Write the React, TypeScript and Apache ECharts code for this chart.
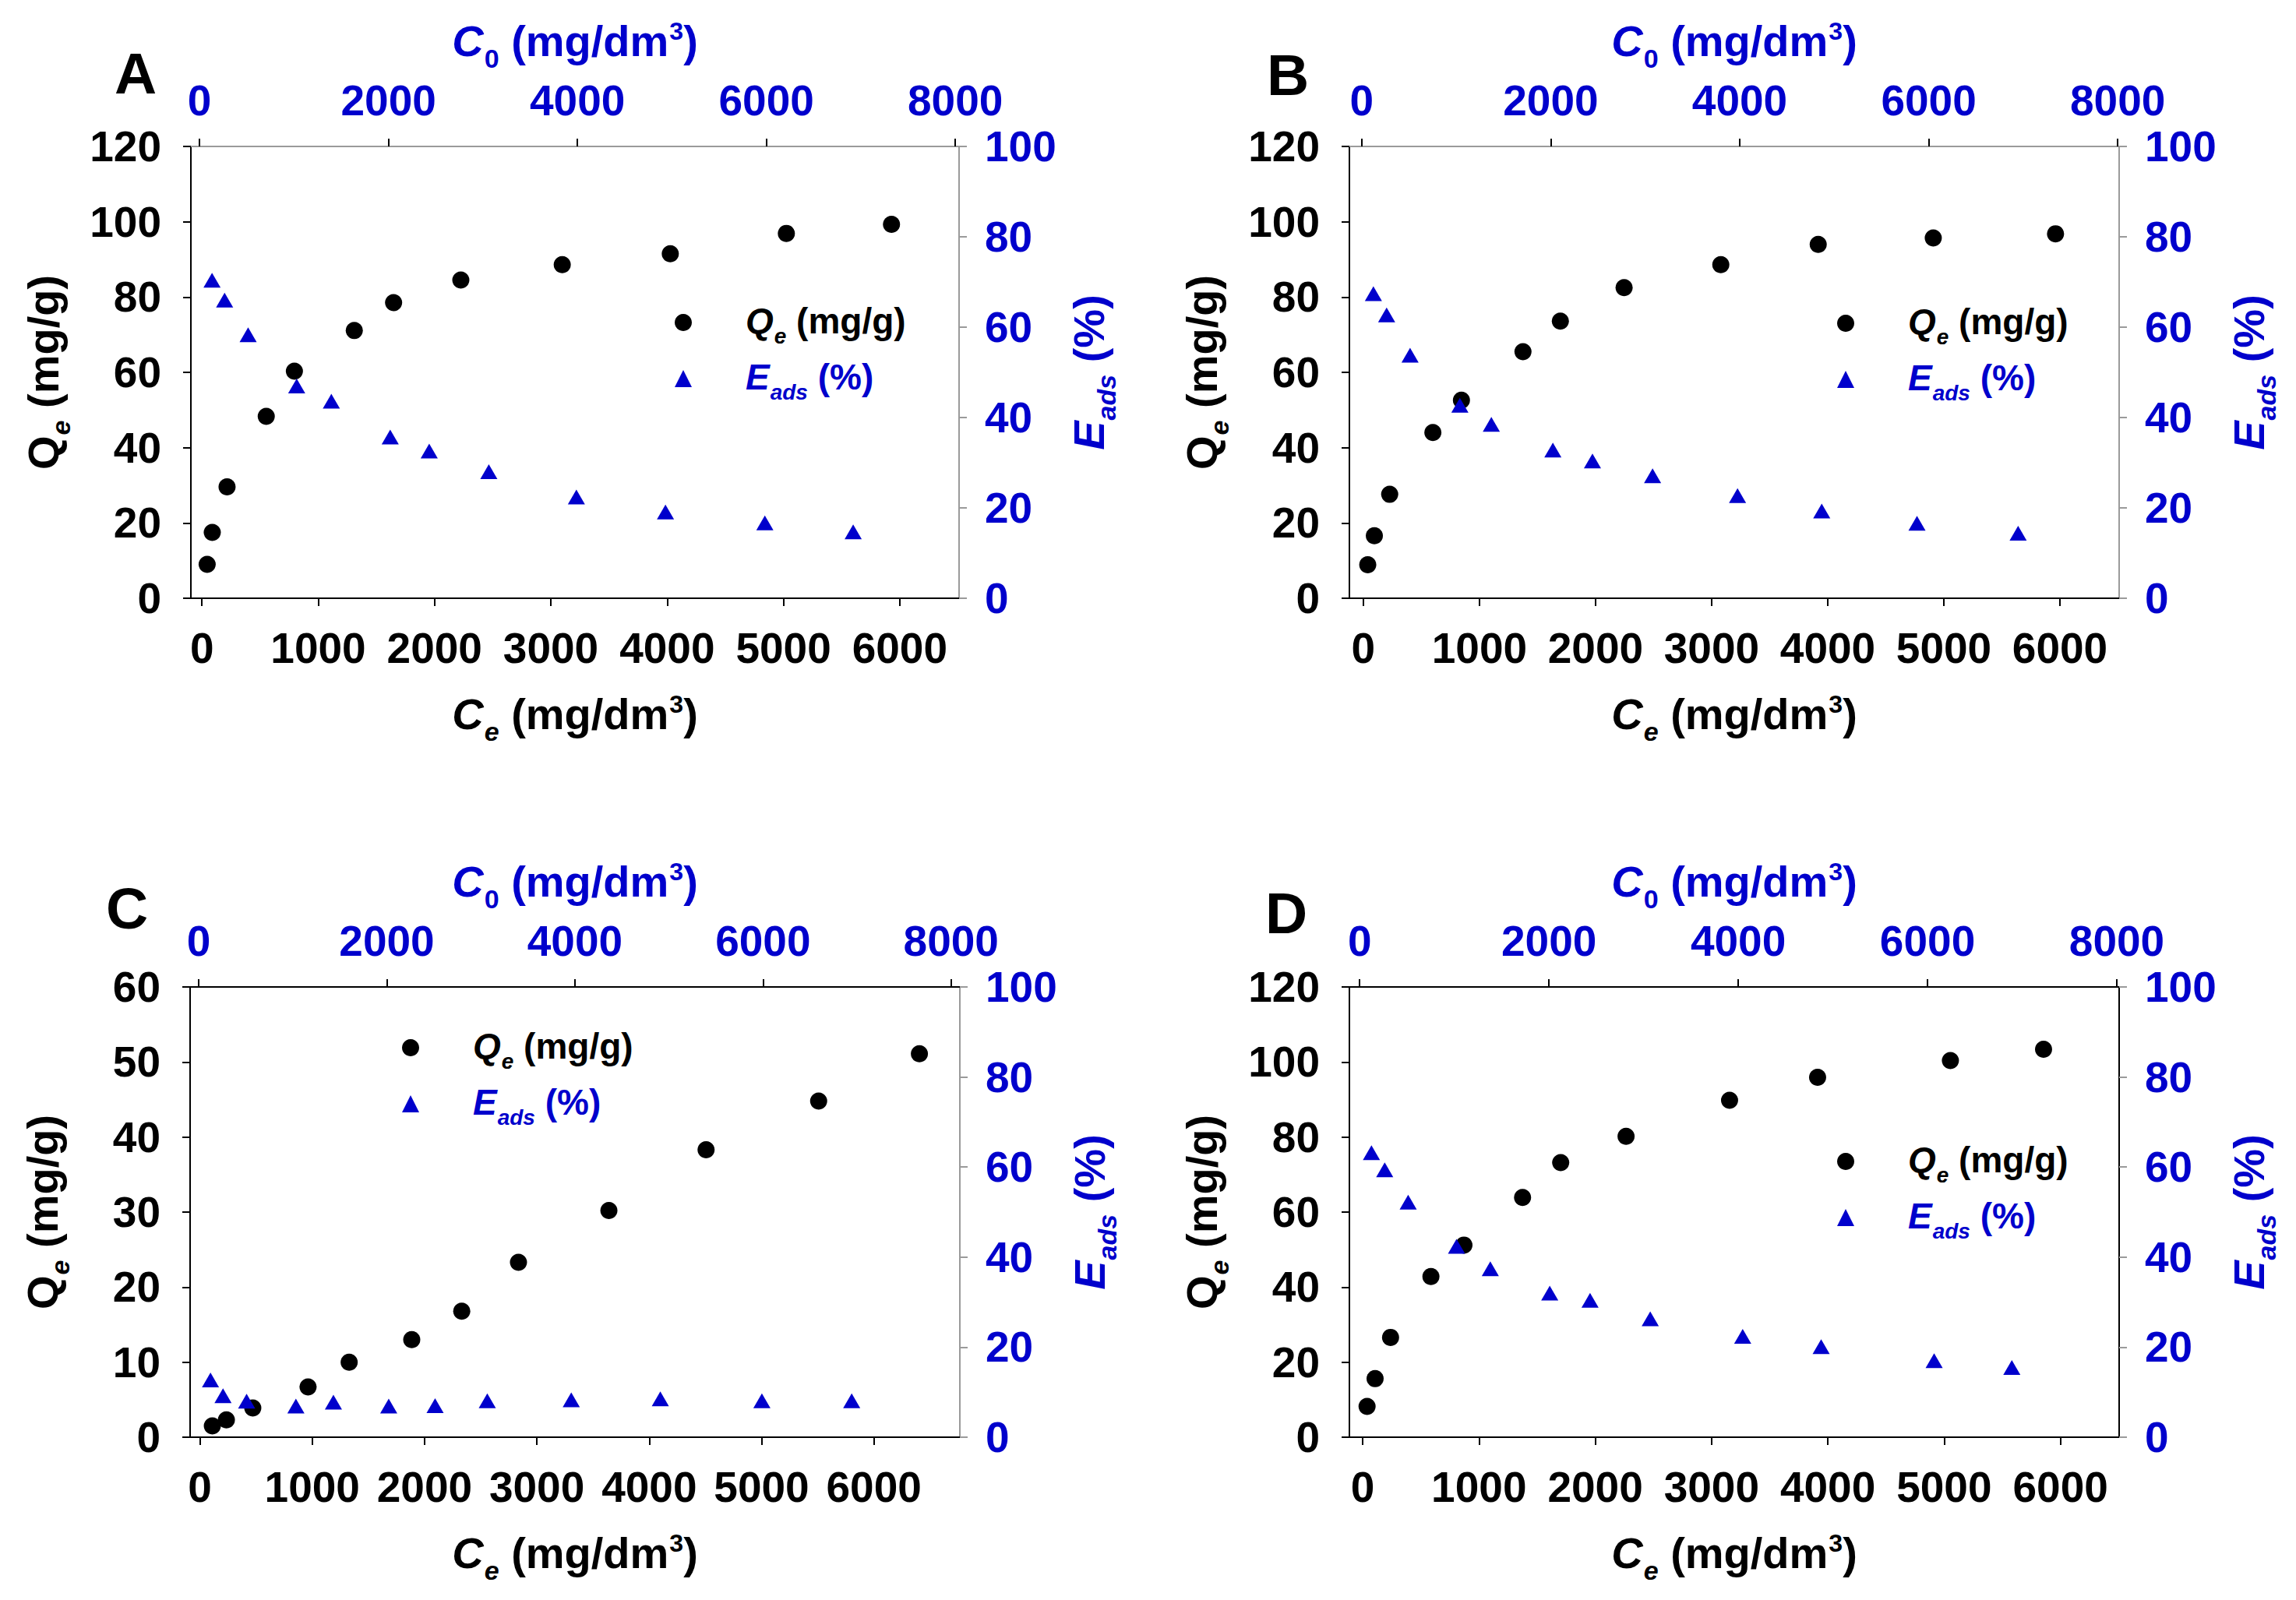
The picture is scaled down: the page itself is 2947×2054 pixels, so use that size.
import React, { useEffect, useRef } from "react";
import * as echarts from "echarts";

// ---------- data ----------
const ceTicks = [0, 1000, 2000, 3000, 4000, 5000, 6000];
const c0Ticks = [0, 2000, 4000, 6000, 8000];

const ceA = [45, 89, 216, 553, 795, 1310, 1648, 2226, 3098, 4027, 5025, 5929];
const qeA = [9.0, 17.5, 29.6, 48.3, 60.3, 71.1, 78.5, 84.5, 88.6, 91.5, 96.9, 99.3];
const c0A = [132, 265, 514, 1028, 1395, 2018, 2431, 3062, 3989, 4932, 5984, 6919];
const eA = [70.4, 66.0, 58.3, 47.0, 43.6, 35.7, 32.6, 28.0, 22.4, 19.1, 16.7, 14.7];

const ceB = [38, 95, 227, 599, 845, 1375, 1697, 2246, 3079, 3918, 4909, 5962];
const qeB = [8.9, 16.6, 27.6, 44.0, 52.6, 65.5, 73.6, 82.5, 88.6, 94.0, 95.7, 96.8];
const c0B = [124, 264, 512, 1039, 1372, 2023, 2442, 3078, 3977, 4868, 5876, 6946];
const eB = [67.4, 62.7, 53.8, 42.7, 38.5, 32.8, 30.4, 27.1, 22.7, 19.3, 16.6, 14.4];

const ceC = [111, 236, 471, 963, 1329, 1886, 2331, 2836, 3641, 4506, 5508, 6405];
const qeC = [1.5, 2.3, 3.9, 6.7, 10.0, 13.0, 16.8, 23.3, 30.2, 38.3, 44.8, 51.1];
const c0C = [125, 258, 509, 1033, 1432, 2020, 2513, 3068, 3961, 4908, 5988, 6943];
const eC = [12.7, 9.2, 8.0, 6.9, 7.8, 6.9, 7.0, 8.1, 8.3, 8.5, 8.1, 8.1];

const ceD = [38, 107, 240, 587, 871, 1375, 1703, 2265, 3155, 3912, 5054, 5855];
const qeD = [8.2, 15.6, 26.6, 42.8, 51.2, 63.9, 73.2, 80.2, 89.8, 95.9, 100.4, 103.4];
const c0D = [124, 264, 512, 1023, 1380, 2008, 2434, 3070, 4047, 4876, 6070, 6891];
const eD = [63.2, 59.4, 52.2, 42.4, 37.4, 32.0, 30.4, 26.3, 22.4, 20.1, 17.0, 15.5];

// ---------- styling ----------
const FONT = "'Liberation Sans', Arial, Helvetica, sans-serif";
const BLUE = "#0000CC";
const GRAY = "#9a9a9a";
const FS = 55;
const NFS = 56;
const SFS = 34;
const LFS = 46;
const LSFS = 28;

const plain = (v: number) => String(v);

function nameRich(color: string) {
  const base = { fontSize: NFS, fontWeight: "bold", fontFamily: FONT, color, verticalAlign: "top", lineHeight: 60 };
  return {
    n: { ...base },
    i: { ...base, fontStyle: "italic" },
    sub: { fontSize: SFS, fontWeight: "bold", fontStyle: "italic", fontFamily: FONT, color, verticalAlign: "top", lineHeight: SFS, padding: [34, 0, 0, 1] },
    sub0: { fontSize: SFS, fontWeight: "bold", fontFamily: FONT, color, verticalAlign: "top", lineHeight: SFS, padding: [34, 0, 0, 1] },
    sup: { fontSize: SFS - 2, fontWeight: "bold", fontFamily: FONT, color, verticalAlign: "top", lineHeight: SFS, padding: [0, 0, 0, 1] },
  };
}

function legendRich() {
  const mk = (color: string, italic: boolean) => ({
    fontSize: LFS, fontWeight: "bold", fontFamily: FONT, color, verticalAlign: "top", lineHeight: 50,
    fontStyle: italic ? "italic" : "normal",
  });
  const sub = (color: string) => ({
    fontSize: LSFS, fontWeight: "bold", fontStyle: "italic", fontFamily: FONT, color, verticalAlign: "top",
    lineHeight: LSFS, padding: [28, 0, 0, 1],
  });
  return {
    sp: { width: 64, fontSize: LFS, lineHeight: 50, verticalAlign: "top" },
    qi: mk("#000", true),
    qs: sub("#000"),
    qn: mk("#000", false),
    ei: mk(BLUE, true),
    es: sub(BLUE),
    en: mk(BLUE, false),
  };
}

const panels = [
  {
    label: "A", labelPos: [147, 56], ce: ceA, qe: qeA, c0: c0A, e: eA, qMax: 120, qInt: 20,
    ceRange: [-95, 6510], c0Range: [-92, 8040],
    grid: { left: 245, top: 188, width: 986, height: 580 },
    legend: [866, 389], topColor: GRAY, rightColor: GRAY,
  },
  {
    label: "B", labelPos: [1626, 58], ce: ceB, qe: qeB, c0: c0B, e: eB, qMax: 120, qInt: 20,
    ceRange: [-120, 6510], c0Range: [-130, 8015],
    grid: { left: 1732, top: 188, width: 988, height: 580 },
    legend: [2358, 390], topColor: GRAY, rightColor: GRAY,
  },
  {
    label: "C", labelPos: [136, 1128], ce: ceC, qe: qeC, c0: c0C, e: eC, qMax: 60, qInt: 10,
    ceRange: [-87, 6765], c0Range: [-92, 8093],
    grid: { left: 244, top: 1267, width: 988, height: 578 },
    legend: [516, 1320], topColor: "#000", rightColor: GRAY,
  },
  {
    label: "D", labelPos: [1624, 1134], ce: ceD, qe: qeD, c0: c0D, e: eD, qMax: 120, qInt: 20,
    ceRange: [-114, 6505], c0Range: [-109, 8025],
    grid: { left: 1732, top: 1267, width: 988, height: 578 },
    legend: [2358, 1466], topColor: "#000", rightColor: "#000",
  },
];

function buildOption() {
  const grid: any[] = [];
  const xAxis: any[] = [];
  const yAxis: any[] = [];
  const series: any[] = [];
  const legend: any[] = [];
  const title: any[] = [];

  panels.forEach((p, gi) => {
    grid.push({ ...p.grid, containLabel: false, show: false });

    title.push({
      text: p.label, left: p.labelPos[0], top: p.labelPos[1], padding: 0,
      textStyle: { fontSize: 75, fontWeight: "bold", fontFamily: FONT, color: "#000" },
    });

    // bottom Ce axis
    xAxis.push({
      type: "value", gridIndex: gi, position: "bottom", min: p.ceRange[0], max: p.ceRange[1],
      axisLine: { show: true, onZero: false, lineStyle: { color: "#000", width: 2 } },
      axisTick: { show: true, length: 10, lineStyle: { color: "#000", width: 2 }, customValues: ceTicks },
      axisLabel: { customValues: ceTicks, formatter: plain, fontSize: FS, fontWeight: "bold", fontFamily: FONT, color: "#000", margin: 36 },
      splitLine: { show: false },
      name: "{i|C}{sub|e}{n| (mg/dm}{sup|3}{n|)}", nameLocation: "middle", nameGap: 120,
      nameTextStyle: { rich: nameRich("#000") },
    });
    // top C0 axis
    xAxis.push({
      type: "value", gridIndex: gi, position: "top", min: p.c0Range[0], max: p.c0Range[1],
      axisLine: { show: true, onZero: false, lineStyle: { color: p.topColor, width: 2 } },
      axisTick: { show: true, length: 10, lineStyle: { color: "#000", width: 2 }, customValues: c0Ticks },
      axisLabel: { customValues: c0Ticks, formatter: plain, fontSize: FS, fontWeight: "bold", fontFamily: FONT, color: BLUE, margin: 32 },
      splitLine: { show: false },
      name: "{i|C}{sub0|0}{n| (mg/dm}{sup|3}{n|)}", nameLocation: "middle", nameGap: 104,
      nameTextStyle: { rich: nameRich(BLUE) },
    });
    // left Qe axis
    yAxis.push({
      type: "value", gridIndex: gi, position: "left", min: 0, max: p.qMax, interval: p.qInt,
      axisLine: { show: true, onZero: false, lineStyle: { color: "#000", width: 2 } },
      axisTick: { show: true, length: 10, lineStyle: { color: "#000", width: 2 } },
      axisLabel: { formatter: plain, fontSize: FS, fontWeight: "bold", fontFamily: FONT, color: "#000", margin: 38 },
      splitLine: { show: false },
      name: "{n|Q}{sub|e}{n| (mg/g)}", nameLocation: "middle", nameGap: 158,
      nameTextStyle: { rich: nameRich("#000") },
    });
    // right Eads axis
    yAxis.push({
      type: "value", gridIndex: gi, position: "right", min: 0, max: 100, interval: 20,
      axisLine: { show: true, onZero: false, lineStyle: { color: p.rightColor, width: 2 } },
      axisTick: { show: true, length: 10, lineStyle: { color: GRAY, width: 2 } },
      axisLabel: { formatter: plain, fontSize: FS, fontWeight: "bold", fontFamily: FONT, color: BLUE, margin: 33 },
      splitLine: { show: false },
      name: "{i|E}{sub|ads}{n| (%)}", nameLocation: "middle", nameGap: 138,
      nameTextStyle: { rich: nameRich(BLUE) },
    });

    series.push({
      name: "Qe", type: "scatter", xAxisIndex: gi * 2, yAxisIndex: gi * 2,
      symbol: "circle", symbolSize: 22, itemStyle: { color: "#000", opacity: 1 },
      data: p.ce.map((x, i) => [x, p.qe[i]]),
    });
    series.push({
      name: "Eads", type: "scatter", xAxisIndex: gi * 2 + 1, yAxisIndex: gi * 2 + 1,
      symbol: "triangle", symbolSize: [22, 19], itemStyle: { color: BLUE, opacity: 1 },
      data: p.c0.map((x, i) => [x, p.e[i]]),
    });

    legend.push({
      left: p.legend[0], top: p.legend[1], orient: "vertical", padding: 0,
      itemWidth: 22, itemHeight: 22, itemGap: 16, selectedMode: false,
      data: [{ name: "Qe", icon: "circle" }, { name: "Eads", icon: "triangle" }],
      itemStyle: { opacity: 1 },
      formatter: (name: string) =>
        name === "Qe" ? "{sp| }{qi|Q}{qs|e}{qn| (mg/g)}" : "{sp| }{ei|E}{es|ads}{en| (%)}",
      textStyle: { rich: legendRich() },
    });
  });

  return {
    animation: false,
    backgroundColor: "#ffffff",
    title, grid, xAxis, yAxis, series, legend,
  };
}

export default function App() {
  const ref = useRef<HTMLDivElement>(null);
  useEffect(() => {
    if (!ref.current) return;
    const chart = echarts.init(ref.current, undefined, { renderer: "svg" });
    chart.setOption(buildOption() as any);
    return () => chart.dispose();
  }, []);
  return (
    <div
      ref={ref}
      style={{ position: "fixed", left: 0, top: 0, width: 2947, height: 2054, background: "#fff" }}
    />
  );
}
